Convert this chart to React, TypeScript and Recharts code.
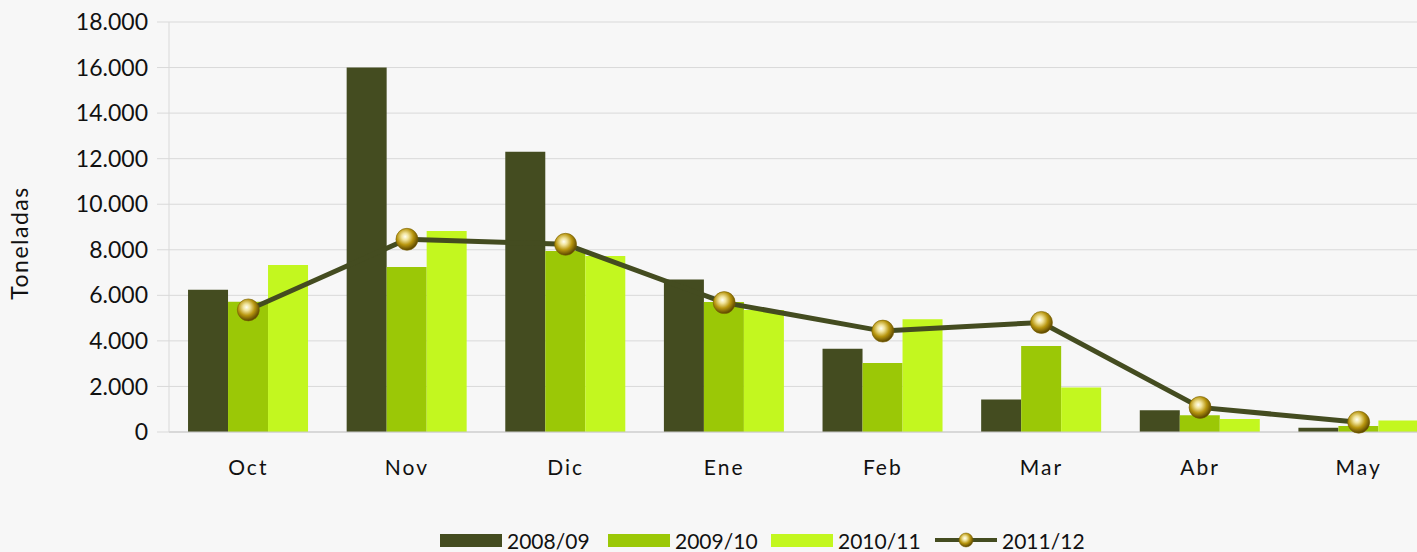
import React from "react";
import { Bar, CartesianGrid, ComposedChart, Legend, Line, XAxis, YAxis } from "recharts";

const months = ["Oct", "Nov", "Dic", "Ene", "Feb", "Mar", "Abr", "May"];
const s0809 = [6250, 16000, 12300, 6700, 3650, 1430, 950, 190];
const s0910 = [5720, 7240, 7950, 5710, 3030, 3780, 730, 260];
const s1011 = [7330, 8820, 7730, 5360, 4950, 1950, 570, 510];
const s1112 = [5360, 8460, 8240, 5680, 4430, 4810, 1080, 430];
const yTicks = [0, 2000, 4000, 6000, 8000, 10000, 12000, 14000, 16000, 18000];
const edgeTicks = [0, 1, 2, 3, 4, 5, 6, 7, 8];

const DARK = "#444C20";
const MID = "#9BC806";
const LIGHT = "#C3F71F";
const GRID = "#D9D9D9";
const FONT = "Lato, 'DejaVu Sans', sans-serif";

const data = months.map((m, i) => ({
  month: m,
  a: s0809[i],
  b: s0910[i],
  c: s1011[i],
  d: s1112[i],
}));

const fmt = (v: number) => v.toLocaleString("de-DE");

function Ball({ cx, cy, r = 11 }: { cx?: number; cy?: number; r?: number }) {
  if (cx == null || cy == null) return null;
  return <circle cx={cx} cy={cy} r={r} fill="url(#ball)" stroke="#7a6200" strokeWidth={0.6} />;
}

function LegendBox() {
  const items = [
    { label: "2008/09", color: DARK, w: 168 },
    { label: "2009/10", color: MID, w: 163 },
    { label: "2010/11", color: LIGHT, w: 164 },
  ];
  return (
    <div style={{ display: "flex", alignItems: "center", height: 24, paddingLeft: 440, fontFamily: FONT, fontSize: 21, color: "#111" }}>
      {items.map((it) => (
        <div key={it.label} style={{ display: "flex", alignItems: "center", width: it.w }}>
          <span style={{ width: 62, height: 13, background: it.color, display: "inline-block", marginRight: 5 }} />
          <span>{it.label}</span>
        </div>
      ))}
      <div style={{ display: "flex", alignItems: "center" }}>
        <svg width={62} height={20} style={{ marginRight: 5 }}>
          <line x1={0} y1={10} x2={62} y2={10} stroke={DARK} strokeWidth={4} />
          <circle cx={31} cy={10} r={7} fill="url(#ball)" stroke="#7a6200" strokeWidth={0.5} />
        </svg>
        <span>2011/12</span>
      </div>
    </div>
  );
}

export default function App() {
  return (
    <div style={{ position: "absolute", left: 0, top: 0, width: 1417, height: 552, overflow: "hidden", background: "#F7F7F7" }}>
      <ComposedChart
        width={1438}
        height={552}
        data={data}
        margin={{ top: 22, right: 0, bottom: 0, left: 0 }}
        barCategoryGap="12%"
        barGap={0}
      >
        <defs>
          <radialGradient id="ball" cx="42%" cy="38%" r="62%">
            <stop offset="0%" stopColor="#FFFFF4" />
            <stop offset="25%" stopColor="#F0E39A" />
            <stop offset="60%" stopColor="#B8960F" />
            <stop offset="100%" stopColor="#5A4500" />
          </radialGradient>
        </defs>
        <CartesianGrid vertical={false} stroke={GRID} />
        <XAxis
          xAxisId="edge"
          type="number"
          domain={[0, 8]}
          ticks={edgeTicks}
          tick={false}
          axisLine={false}
          tickLine={{ stroke: GRID }}
          tickSize={11}
          height={0}
        />
        <XAxis
          dataKey="month"
          axisLine={{ stroke: "#C8C8C8" }}
          tickLine={false}
          tickMargin={22}
          height={96}
          tick={{ fill: "#111", fontSize: 21, fontFamily: FONT, letterSpacing: 2 }}
          interval={0}
        />
        <YAxis
          domain={[0, 18000]}
          ticks={yTicks}
          width={169}
          tickFormatter={fmt}
          axisLine={{ stroke: GRID }}
          tickLine={{ stroke: GRID }}
          tickSize={12}
          tickMargin={9}
          tick={{ fill: "#111", fontSize: 23, fontFamily: FONT }}
        />
        <Bar dataKey="a" name="2008/09" fill={DARK} isAnimationActive={false} />
        <Bar dataKey="b" name="2009/10" fill={MID} isAnimationActive={false} />
        <Bar dataKey="c" name="2010/11" fill={LIGHT} isAnimationActive={false} />
        <Line
          dataKey="d"
          name="2011/12"
          type="linear"
          stroke={DARK}
          strokeWidth={5}
          dot={(p: any) => <Ball key={p.index} cx={p.cx} cy={p.cy} />}
          activeDot={false}
          isAnimationActive={false}
        />
        <Legend verticalAlign="bottom" content={() => <LegendBox />} />
      </ComposedChart>
      <svg width={50} height={552} style={{ position: "absolute", left: 0, top: 0 }}>
        <text
          x={0}
          y={0}
          transform="translate(28 243) rotate(-90)"
          textAnchor="middle"
          fill="#111"
          fontSize={23}
          fontFamily={FONT}
          letterSpacing={1.5}
        >
          Toneladas
        </text>
      </svg>
    </div>
  );
}
